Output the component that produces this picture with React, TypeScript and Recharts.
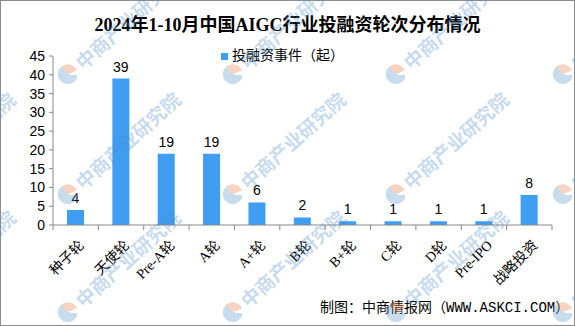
import { BarChart, Bar, XAxis, YAxis, Legend, LabelList } from "recharts"

const categories = ["种子轮", "天使轮", "Pre-A轮", "A轮", "A+轮", "B轮", "B+轮", "C轮", "D轮", "Pre-IPO", "战略投资"]
const events = [4, 39, 19, 19, 6, 2, 1, 1, 1, 1, 8]
const yTicks = [0, 5, 10, 15, 20, 25, 30, 35, 40, 45]
const seriesName = "投融资事件（起）"

const data = categories.map((c, i) => ({ name: c, value: events[i] }))

const BLUE = "#3f9ef2"
const AXIS = "#888888"
const SERIF = "'Liberation Serif', 'Noto Sans CJK SC', serif"
const SANS = "'Liberation Sans', 'Noto Sans CJK SC', sans-serif"

// excel style: tick marks sit between categories, labels rotated
const CatTick = (props: any) => {
  const { x, y, payload, index } = props
  const half = payload && payload.offset ? payload.offset : 22.6
  const last = index === categories.length - 1
  return (
    <g>
      <line x1={x - half} y1={y} x2={x - half} y2={y + 5} stroke={AXIS} />
      {last && <line x1={x + half} y1={y} x2={x + half} y2={y + 5} stroke={AXIS} />}
      <text
        transform={`translate(${x + 6},${y + 18}) rotate(-45)`}
        textAnchor="end"
        dominantBaseline="central"
        fontSize={14}
        fontFamily={SERIF}
        fill="#000"
      >
        {payload.value}
      </text>
    </g>
  )
}

const wmRows = [-43, 77, 197, 315]
const wmCols = [-95, 70, 235, 398, 565]

const Watermark = ({ left, top }: { left: number; top: number }) => (
  <div
    style={{
      position: "absolute",
      left,
      top,
      transform: "rotate(-42deg)",
      transformOrigin: "0 50%",
      display: "flex",
      alignItems: "center",
      opacity: 0.3,
      pointerEvents: "none",
      whiteSpace: "nowrap",
    }}
  >
    <div
      style={{
        width: 20,
        height: 20,
        borderRadius: 10,
        background: "conic-gradient(#e8703a 0 110deg, #ffffff 110deg 140deg, #4a90c8 140deg 360deg)",
        marginRight: 4,
      }}
    />
    <span style={{ fontSize: 19, fontWeight: "bold", color: "#4a8cc6", fontFamily: "'Noto Sans CJK SC'" }}>
      中商产业研究院
    </span>
  </div>
)

export default function App() {
  return (
    <div style={{ position: "absolute", left: 0, top: 0, width: 575, height: 326, background: "#fff", overflow: "hidden" }}>
      <div
        style={{
          position: "absolute",
          left: 0,
          top: 0,
          width: 573,
          height: 324,
          border: "1px solid #8c8c8c",
        }}
      />
      <div
        style={{
          position: "absolute",
          left: 0,
          top: 10,
          width: 575,
          textAlign: "center",
          fontFamily: SERIF,
          fontWeight: "bold",
          fontSize: 18,
          color: "#000",
        }}
      >
        2024年1-10月中国AIGC行业投融资轮次分布情况
      </div>
      <BarChart
        width={575}
        height={326}
        data={data}
        margin={{ top: 56, right: 23, bottom: 31, left: 0 }}
        barSize={17}
      >
        <XAxis
          dataKey="name"
          interval={0}
          height={70}
          stroke={AXIS}
          tickLine={false}
          tickSize={0}
          tickMargin={0}
          tick={<CatTick />}
        />
        <YAxis
          width={53}
          domain={[0, 45]}
          ticks={yTicks}
          interval={0}
          stroke={AXIS}
          tickSize={4}
          tickMargin={4}
          tick={{ fill: "#000", fontSize: 14, fontFamily: SANS }}
        />
        <Legend
          verticalAlign="middle"
          align="center"
          layout="horizontal"
          iconType="square"
          iconSize={7}
          wrapperStyle={{ top: 44, left: 0, width: 575, fontFamily: SANS, fontSize: 14 }}
          formatter={(v: string) => <span style={{ color: "#000" }}>{v}</span>}
        />
        <Bar dataKey="value" name={seriesName} fill={BLUE} isAnimationActive={false}>
          <LabelList dataKey="value" position="top" offset={7} fill="#000" fontSize={14} fontFamily={SANS} />
        </Bar>
      </BarChart>
      <div
        style={{
          position: "absolute",
          left: 320,
          top: 296,
          fontSize: 14,
          fontFamily: "'Liberation Mono', 'Noto Sans CJK SC', monospace",
          color: "#000",
          whiteSpace: "nowrap",
        }}
      >
        制图：中商情报网（WWW.ASKCI.COM）
      </div>
      {wmRows.map((r) => wmCols.map((c) => <Watermark key={`${r}-${c}`} left={c - 10} top={r - 10} />))}
    </div>
  )
}
